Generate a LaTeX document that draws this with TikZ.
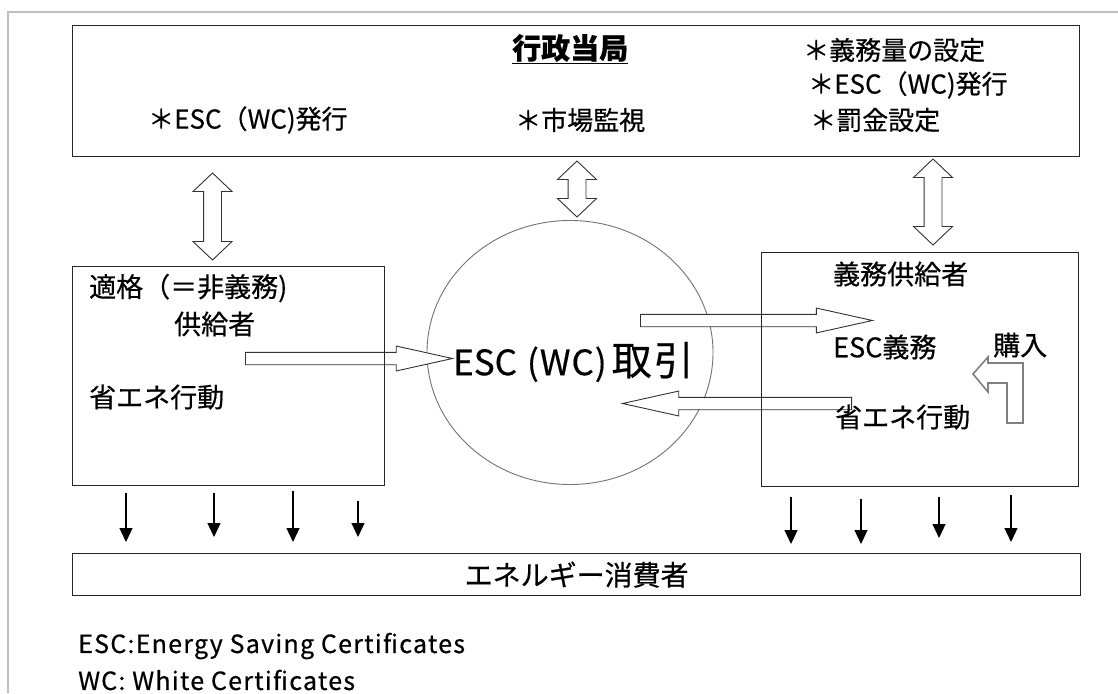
\documentclass[tikz,border=0pt]{standalone}
\usepackage{fontspec}
\setmainfont{Noto Sans CJK JP}[FakeBold=0.5]
\usetikzlibrary{positioning}
\usetikzlibrary{shapes.geometric,shapes.arrows,arrows.meta,calc}
\newcommand{\jsize}[1]{\fontsize{#1}{#1}\selectfont}

\begin{document}
\begin{tikzpicture}[x=1pt, y=-1pt]
    \tikzset{
    box/.style=
    {
        rectangle,
        draw=black!85,
        line width=1.3pt,
        inner sep=0pt
    },
    market/.style=
    {
        ellipse,
        draw=black!55,
        line width=0.9pt,
        inner sep=0pt,
        minimum width=286pt,
        minimum height=264pt
    },
    dblarrow/.style=
    {
        double arrow,
        draw=black!80,
        fill=white,
        line width=0.9pt,
        rotate=90,
        inner xsep=0pt,
        inner ysep=8.5pt,
        double arrow head extend=10.5pt,
        double arrow tip angle=93
    },
    fatarrow/.style=
    {
        single arrow,
        draw=black!80,
        fill=white,
        line width=0.9pt,
        anchor=tail,
        inner xsep=0pt,
        inner ysep=5.75pt,
        single arrow head extend=6.25pt,
        single arrow tip angle=25
    },
    flow/.style=
    {
        line width=1.2pt,
        -{Triangle[width=13pt,length=14pt]}
    },
    txt/.style=
    {
        inner sep=0pt,
        anchor=west,
        font=\jsize{27}
    },
    toptxt/.style=
    {
        txt,
        font=\jsize{26}
    },
    note/.style=
    {
        txt,
        font=\jsize{25}\addfontfeature{LetterSpace=5}
    }
}

  \fill[white] (0,0) rectangle (1118,693);
  \useasboundingbox (0,0) rectangle (1118,693);
  \draw[black!25, line width=1.5pt] (1118,12) -- (8,12) -- (8,693);

  \node[market] (trade) at (570,352.5) {};

  \node[dblarrow, minimum height=87pt] (authelig) at (212.5,216.5) {};
  \node[dblarrow, minimum height=56pt] (authtrade) at (577,189) {};
  \node[dblarrow, minimum height=86pt] (authoblig) at (933,202) {};

  \node[fatarrow, minimum height=207pt] (sell) at (245,358.5) {};
  \node[fatarrow, minimum height=232pt] (buy) at (640,320.5) {};
  \node[fatarrow, minimum height=229pt, rotate=180] (offer) at (852,403.5) {};

  \node[box, anchor=north west, minimum width=1007pt, minimum height=131pt] (auth) at (72,25) {};
  \node[box, anchor=north west, minimum width=312pt, minimum height=219pt] (elig) at (72,266) {};
  \node[box, anchor=north west, minimum width=317pt, minimum height=234pt] (oblig) at (761,252) {};
  \node[box, anchor=north west, minimum width=1008pt, minimum height=42pt] (cons) at (72,553) {};

  % purchase inside the obliged supplier
  \draw[black!50, line width=1.6pt, line join=miter]
    (1007,423) -- (1023,423) -- (1023,363) -- (988,363) -- (988,357)
    -- (973,374) -- (988,392) -- (988,383) -- (1007,383) -- cycle;

  \node[txt, font=\jsize{29}\bfseries] (authname) at (512,49) {\underline{行政当局}};
  \node[toptxt] (issueL) at (148,120) {＊ESC（WC)発行};
  \node[toptxt] (watch) at (515,120) {＊市場監視};
  \node[toptxt] (quota) at (803,50) {＊義務量の設定};
  \node[toptxt] (issueR) at (808,85) {＊ESC（WC)発行};
  \node[toptxt] (fine) at (810,120) {＊罰金設定};

  \node[txt] (eligname) at (89,288) {適格（＝非義務)};
  \node[txt] (eligname2) at (174,324) {供給者};
  \node[txt] (eligsave) at (89,397) {省エネ行動};

  \node[txt] (obligname) at (833,274) {義務供給者};
  \node[txt] (obligesc) at (833,347) {ESC義務};
  \node[txt] (purchase) at (993,345) {購入};
  \node[txt] (obligsave) at (835,417) {省エネ行動};

  \node[txt, font=\jsize{35}] (tradename) at (453,362)
    {ESC\hspace{10pt}(\hspace{1pt}W\hspace{1pt}C\hspace{1pt})\hspace{5pt}{\jsize{40}取\hspace{2pt}引}};
  \node[font=\jsize{28}, inner sep=0pt] (consname) at (cons.center) {エネルギー消費者};

  \foreach \dx/\a/\b in {54/7/11, 142/7/16, 221/5/11, 286/15/16}
    \draw[flow] ($(elig.south west)+(\dx pt,-\a pt)$) -- ($(elig.south west |- cons.north)+(\dx pt,\b pt)$);
  \foreach \dx/\a/\b in {30/10/9, 100/12/9, 178/10/15, 250/8/11}
    \draw[flow] ($(oblig.south west)+(\dx pt,-\a pt)$) -- ($(oblig.south west |- cons.north)+(\dx pt,\b pt)$);

  \node[note] (noteesc) at (78,646) {ESC:Energy Saving Certificates};
  \node[note] (notewc) at (78,680) {WC: White Certificates};

\end{tikzpicture}
\end{document}
